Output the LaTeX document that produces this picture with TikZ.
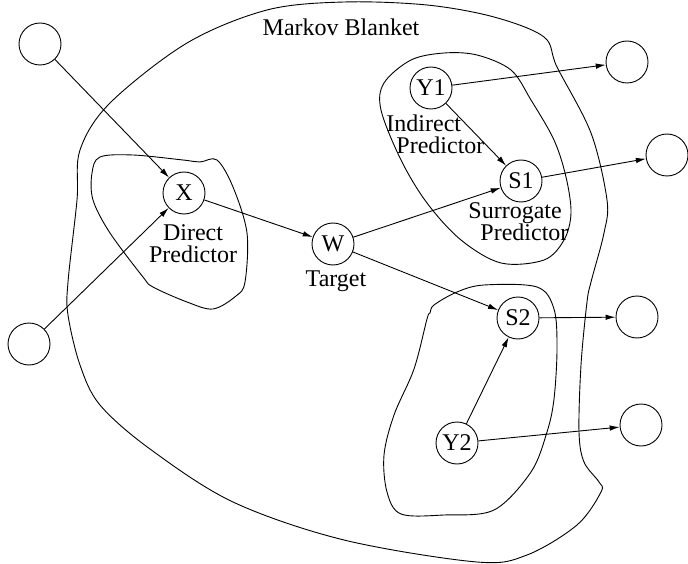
\documentclass[tikz,border=0pt]{standalone}
\usepackage{fontspec}
\setmainfont{Liberation Serif}
\usetikzlibrary{arrows.meta}
\begin{document}
\begin{tikzpicture}[x=1pt,y=-1pt,line width=0.9pt,
  var/.style={circle,draw,minimum size=42pt,inner sep=0pt,font=\fontsize{24}{24}\selectfont},
  lbl/.style={font=\fontsize{24}{22}\selectfont,align=center,inner sep=0pt},
  arr/.style={-{Latex[length=10pt,width=5.5pt]}},
  blob/.style={smooth cycle,tension=0.55}]
\useasboundingbox (0,0) rectangle (688,564);
% blobs
\draw plot[blob] coordinates {(344,2) (427,5) (494,17) (544,37) (557,67) (591,133) (607,200) (604,233) (591,282) (587,302) (581,365) (579,432) (584,462) (599,482) (601,492) (577,525) (527,555) (477,562) (344,540) (233,502) (150,449) (100,405) (80,365) (68,315) (68,282) (77,200) (80,150) (110,103) (187,43) (267,10)};
\draw plot[blob] coordinates {(100,157) (133,155) (183,160) (200,162) (217,160) (233,187) (247,233) (245,282) (236,296) (213,309) (187,302) (153,287) (143,277) (110,233) (93,200) (92,173)};
\draw plot[blob] coordinates {(444,53) (477,55) (511,70) (531,100) (554,140) (566,177) (571,213) (564,240) (544,260) (501,263) (461,240) (427,203) (401,160) (381,110) (384,83) (411,60)};
\draw plot[blob] coordinates {(484,285) (537,287) (554,309) (557,349) (554,399) (547,432) (531,472) (494,510) (444,515) (401,514) (387,492) (384,455) (394,415) (414,369) (427,319) (430,313) (434,305) (457,292)};
% nodes
\node[var] (a) at (40,44) {};
\node[var] (b) at (29,344) {};
\node[var] (X) at (184,193) {X};
\node[var] (W) at (333,244) {W};
\node[var] (Y1) at (431,88) {Y1};
\node[var] (S1) at (521,181) {S1};
\node[var] (S2) at (518,318) {S2};
\node[var] (Y2) at (457,443) {Y2};
\node[var] (c) at (627,62) {};
\node[var] (d) at (667,155) {};
\node[var] (e) at (637,317) {};
\node[var] (f) at (641,425) {};
% labels
\node[lbl] (mb) at (341,27) {Markov Blanket};
\node[lbl] (dp) at (193,244) {Direct\\Predictor};
\node[lbl] (tg) at (336,281) {Target};
\node[lbl,align=left,anchor=west] (ip) at (386,134) {Indirect\\\hspace*{10pt}Predictor};
\node[lbl,align=left,anchor=west] (sp) at (468,222) {Surrogate\\\hspace*{12pt}Predictor};
% arrows
\draw[arr] (a) -- (X);
\draw[arr] (b) -- (X);
\draw[arr] (X) -- (W);
\draw[arr] (W) -- (S1);
\draw[arr] (W) -- (S2);
\draw[arr] (Y1) -- (S1);
\draw[arr] (Y1) -- (c);
\draw[arr] (S1) -- (d);
\draw[arr] (S2) -- (e);
\draw[arr] (Y2) -- (S2);
\draw[arr] (Y2) -- (f);
\end{tikzpicture}
\end{document}
